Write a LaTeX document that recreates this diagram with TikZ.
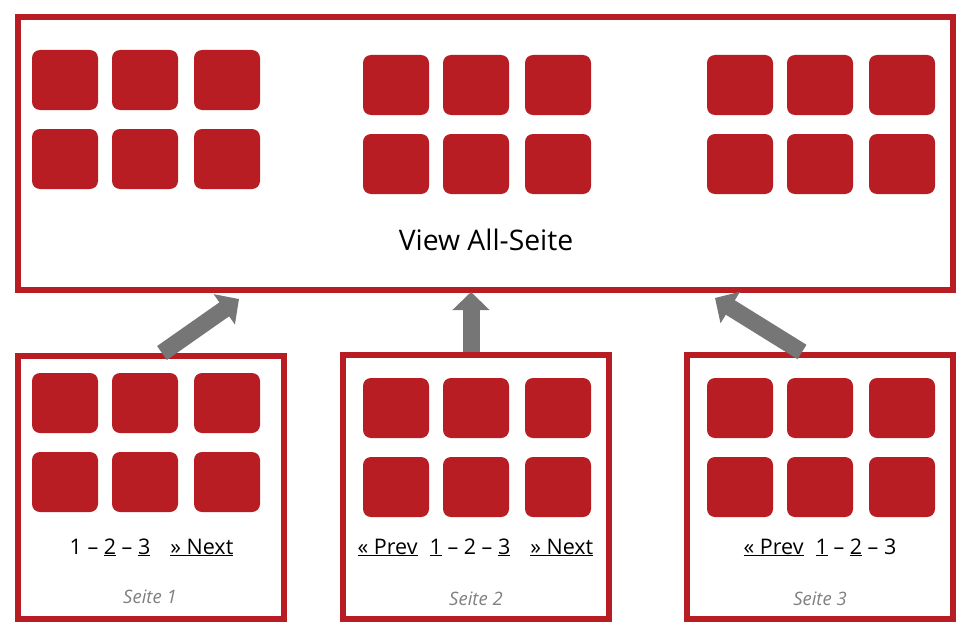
\documentclass[tikz,border=0pt]{standalone}
\usepackage{fontspec}
\setmainfont{Open Sans}
\usetikzlibrary{arrows.meta,positioning}

\definecolor{tilered}{RGB}{185,29,36}
\definecolor{arrowgray}{RGB}{118,118,118}
\definecolor{labelgray}{RGB}{128,128,128}

% 2x3 block of product tiles: name, x of first column, y of first row
\newcommand{\tilegrid}[3]{%
  \foreach \col/\dx in {1/0,2/80,3/162}
    \foreach \row/\dy in {1/0,2/79}
      \node[tile] (#1-\row-\col) at (#2+\dx,#3+\dy) {};%
}

\begin{document}
\begin{tikzpicture}[x=1pt,y=-1pt,
    tile/.style={fill=tilered, rounded corners=8pt, inner sep=0pt,
      minimum width=66pt, minimum height=60pt},
    pagebox/.style={draw=tilered, line width=6pt, inner sep=0pt},
    pagenav/.style={font=\fontsize{21.5}{26}\selectfont, inner sep=0pt, anchor=base},
    pagename/.style={font=\fontsize{18.5}{22}\selectfont\itshape, text=labelgray,
      inner sep=0pt, anchor=base},
    pagearrow/.style={draw=arrowgray, line width=17pt,
      -{Triangle[width=36pt,length=18pt]}}]
  \useasboundingbox[fill=white] (0,0) rectangle (974,634);

  % view all page
  \node[pagebox, minimum width=935pt, minimum height=273pt] (all) at (485.5,153.5) {};
  \tilegrid{a}{65}{80}
  \tilegrid{b}{396}{85}
  \tilegrid{c}{740}{85}
  \node[font=\fontsize{28.3}{34}\selectfont, inner sep=0pt, anchor=base] (alltitle)
    at (486,250) {View All-Seite};

  % single pages
  \node[pagebox, minimum width=266pt, minimum height=263pt] (s1) at (151,487.5) {};
  \node[pagebox, minimum width=266pt, minimum height=264pt] (s2) at (476,487) {};
  \node[pagebox, minimum width=266pt, minimum height=264pt] (s3) at (820,487) {};
  \tilegrid{p}{65}{403}
  \tilegrid{q}{396}{408}
  \tilegrid{r}{740}{408}

  \node[pagenav] (nav1) at (151.5,554)
    {1 – \underline{2} – \underline{3}\hspace{20pt}\underline{» Next}};
  \node[pagenav] (nav2) at (475.5,554)
    {\underline{« Prev}\hspace{12pt}\underline{1} – 2 – \underline{3}\hspace{20pt}\underline{» Next}};
  \node[pagenav] (nav3) at (820,554)
    {\underline{« Prev}\hspace{12pt}\underline{1} – \underline{2} – 3};

  \node[pagename] (name1) at (150,603) {Seite 1};
  \node[pagename] (name2) at (476,605) {Seite 2};
  \node[pagename] (name3) at (820,605) {Seite 3};

  % arrows up to the view all page
  \coordinate (t1) at (239,299);
  \coordinate (t2) at (471,292);
  \coordinate (t3) at (715,298);
  \draw[pagearrow] ([xshift=11pt]s1.north) -- (t1);
  \draw[pagearrow] ([xshift=-5pt]s2.north) -- (t2);
  \draw[pagearrow] ([xshift=-18pt]s3.north) -- (t3);
\end{tikzpicture}
\end{document}
